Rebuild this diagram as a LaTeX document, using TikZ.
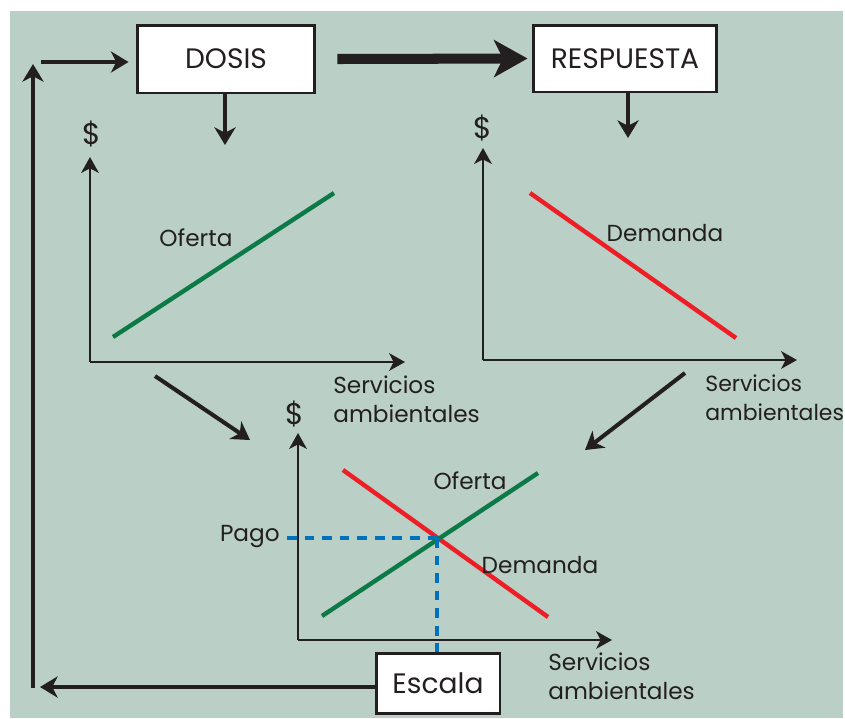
\documentclass[tikz,border=0pt]{standalone}
\usepackage{fontspec}
\setmainfont{Poppins}
\usepackage{tikz}
\usetikzlibrary{positioning,calc,arrows.meta}
\definecolor{bggreen}{RGB}{186, 207, 197}
\definecolor{supplygreen}{RGB}{12, 122, 70}
\definecolor{demandred}{RGB}{237, 30, 38}
\definecolor{dashblue}{RGB}{0, 114, 188}
\definecolor{inkblack}{RGB}{35, 31, 32}

\begin{document}
\begin{tikzpicture}[x=0.02cm,y=-0.02cm,
        every node/.style={font=\fontsize{13.2}{17}\selectfont,text=inkblack},
        boxnode/.style={draw=inkblack,fill=white,line width=1.7pt,inner sep=0pt,font=\fontsize{16}{18}\selectfont},
        dollar/.style={font=\fontsize{17}{19}\selectfont},
        axis/.style={draw=inkblack,line width=1.4pt,-{Stealth[length=9pt,width=10pt,inset=2.5pt]}},
        flow/.style={draw=inkblack,line width=2.3pt,-{Stealth[length=10pt,width=12pt,inset=3pt]}},
        bigflow/.style={draw=inkblack,line width=5.7pt,-{Stealth[length=19pt,width=21pt,inset=5pt]}},
        supply/.style={supplygreen,line width=2.5pt},
        demand/.style={demandred,line width=2.5pt},
        guide/.style={dashblue,line width=2.3pt,dash pattern=on 5.5pt off 4.5pt}]
        \useasboundingbox (0,0) rectangle (845,718);
        \fill[bggreen] (10,11) rectangle (843,718);

        % Boxes
        \node[boxnode,minimum width=3.56cm,minimum height=1.36cm] (dosis) at (226,59) {DOSIS};
        \node[boxnode,minimum width=3.68cm,minimum height=1.34cm] (respuesta) at (625,58.5) {RESPUESTA};
        \node[boxnode,minimum width=2.48cm,minimum height=1.2cm] (escala) at (438,683) {Escala};

        \draw[bigflow] ([xshift=0.42cm]dosis.east) -- ([xshift=-0.08cm]respuesta.west);
        \draw[flow] (dosis.south -| 225,0) -- (225,145);
        \draw[flow] (respuesta.south -| 628,0) -- (628,138);

        % Feedback loop
        \coordinate (loopbottom) at (33,688);
        \coordinate (looptop) at (33,64);
        \coordinate (loopin) at (41,62);
        \draw[flow,line width=2.6pt] (escala.west |- 0,687) -- (40,687);
        \draw[flow,line width=2.6pt] (loopbottom) -- (looptop);
        \draw[flow,line width=2.3pt] (loopin) -- ([xshift=-0.14cm]dosis.west |- loopin);

        % Axes (supply)
        \coordinate (so) at (90,362);
        \draw[axis] (so) -- (90,157);
        \draw[axis] (so) -- (405,362);
        \node[dollar] (sdollar) at (92,134) {\$};
        % Plot
        \draw[supply] (113,337) -- (334,193);
        \node (slabel) at (196,238) {Oferta};
        \node[anchor=north west,align=left,inner sep=0pt] (saxis) at (333,375) {Servicios\\ambientales};

        % Axes (demand)
        \coordinate (do) at (483,360);
        \draw[axis] (do) -- (483,148);
        \draw[axis] (do) -- (797,360);
        \node[dollar] (ddollar) at (483,128) {\$};
        % Plot
        \draw[demand] (530,193) -- (736,338);
        \node (dlabel) at (665,233) {Demanda};
        \node[anchor=north west,align=left,inner sep=0pt,font=\fontsize{12.5}{17}\selectfont] (daxis) at (705,374) {Servicios\\ambientales};

        \coordinate (sout) at (155,376);
        \coordinate (mleftin) at (250,440);
        \coordinate (dout) at (685,373);
        \coordinate (mrightin) at (585,450);
        \draw[flow] (sout) -- (mleftin);
        \draw[flow] (dout) -- (mrightin);

        % Axes (market)
        \coordinate (mo) at (298,640);
        \draw[axis] (mo) -- (298,433);
        \draw[axis] (mo) -- (612,640);
        \node[dollar] (mdollar) at (295,414) {\$};
        % Plot
        \draw[demand] (343,470) -- (548,617);
        \draw[supply] (322,616) -- (538,473);
        \coordinate (eq) at (437,538);
        \draw[guide] (287,538) -- (eq);
        \draw[guide] (eq) -- (escala.north -| eq);
        \node[anchor=east,inner sep=0pt] (pago) at (280,537) {Pago};
        \node (mslabel) at (470,481) {Oferta};
        \node (mdlabel) at (540,565) {Demanda};
        \node[anchor=north west,align=left,inner sep=0pt] (maxis) at (548,652) {Servicios\\ambientales};
\end{tikzpicture}
\end{document}
